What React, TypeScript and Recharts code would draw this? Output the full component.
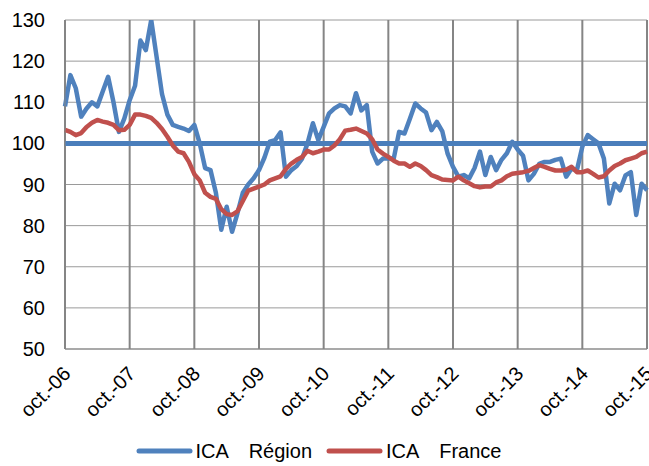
import React from 'react';
import { LineChart, Line, XAxis, YAxis, CartesianGrid, ReferenceLine, Legend } from 'recharts';

const tickLabels = ['oct.-06', 'oct.-07', 'oct.-08', 'oct.-09', 'oct.-10', 'oct.-11', 'oct.-12', 'oct.-13', 'oct.-14', 'oct.-15'];

const region = [
  109, 116.6, 113.4, 106.5, 108.5, 110, 109, 112.6, 116.2, 110, 102.8, 106,
  110.5, 114, 125, 122.7, 130, 121, 112, 107, 104.5, 104, 103.6, 103,
  104.5, 100, 94, 93.5, 88, 79, 84.6, 78.5, 83, 88, 90, 91.5,
  93.5, 96.5, 100.4, 100.8, 102.7, 91.9, 93.5, 94.5, 96.3, 100, 104.9, 100.8,
  104, 107.3, 108.5, 109.3, 109, 107.3, 112.2, 108, 109.3, 98, 95.1, 96.3,
  96.3, 96.3, 102.8, 102.4, 106, 109.7, 108.5, 107.5, 103.2, 105.2, 103, 97.5,
  94.3, 91.9, 92.3, 91.5, 94, 98, 92.3, 96.7, 93.5, 96, 97.6, 100.4,
  98.5, 97, 91, 92.6, 95, 95.5, 95.5, 96, 96.3, 91.9, 93.9, 93.5,
  99.2, 102, 101, 100, 96.3, 85.4, 90.2, 88.6, 92.2, 93, 82.6, 90.2,
  88.6,
];

const france = [
  103.3, 102.8, 102, 102.5, 104, 105, 105.7, 105.3, 105, 104.5, 103.2, 103.3,
  104.5, 107, 107, 106.7, 106.2, 105, 103.5, 101.6, 99.5, 98, 97.6, 95.5,
  92.5, 91, 88, 87, 86.5, 84, 82.8, 82.6, 83.5, 86, 88.5, 89,
  89.5, 90, 91, 91.5, 92, 93.8, 95.1, 96, 96.7, 98.2, 97.6, 98,
  98.5, 98.5, 99.5, 101, 103.1, 103.3, 103.6, 103, 102.4, 101, 98.5, 97.5,
  96.7, 95.8, 95.1, 95.1, 94.3, 95.1, 94.5, 93.5, 92.3, 91.8, 91.2, 91.1,
  91, 91.9, 91, 90.3, 89.6, 89.3, 89.5, 89.5, 90.5, 91, 92, 92.6,
  92.8, 93, 93.3, 94, 94.7, 94.3, 93.8, 93.4, 93.4, 93.6, 94.3, 93,
  93, 93.4, 92.6, 91.7, 92, 93.4, 94.5, 95.1, 95.9, 96.3, 96.7, 97.6,
  98,
];

const yTicks = [50, 60, 70, 80, 90, 100, 110, 120, 130];
const baseLevel = 100;
const seriesOrder = ['region', 'france'];
const seriesNames: Record<string, string> = { region: 'ICA   Région', france: 'ICA   France' };

const data = region.map((v, i) => ({ m: i, region: v, france: france[i] }));
const xTicks = tickLabels.map((_, k) => k * 12);

const BLUE = '#4F81BD';
const RED = '#C0504D';
const FONT = '"Liberation Sans", Arial, sans-serif';

const XTick = (props: any) => {
  const { x, y, payload } = props;
  const label = tickLabels[Math.round(payload.value / 12)] ?? '';
  return (
    <g transform={`translate(${x + 2},${y + 13})`}>
      <text
        x={0}
        y={0}
        textAnchor="end"
        transform="rotate(-45)"
        fontSize={20}
        fontFamily={FONT}
        fill="#000"
        dy="0.35em"
      >
        {label}
      </text>
    </g>
  );
};

const LegendContent = (props: any) => {
  const payload = [...(props.payload || [])].sort(
    (a: any, b: any) => seriesOrder.indexOf(a.dataKey) - seriesOrder.indexOf(b.dataKey)
  );
  return (
    <div
      style={{
        height: 30,
        display: 'flex',
        alignItems: 'center',
        justifyContent: 'center',
        fontFamily: FONT,
        fontSize: 20,
        color: '#000',
        paddingRight: 10,
      }}
    >
      {payload.map((p: any, idx: number) => (
        <div key={idx} style={{ display: 'flex', alignItems: 'center', marginLeft: idx === 0 ? 0 : 14 }}>
          <svg width={57} height={10} style={{ display: 'block' }}>
            <line x1={3} y1={5} x2={54} y2={5} stroke={p.color} strokeWidth={5} strokeLinecap="round" />
          </svg>
          <span style={{ whiteSpace: 'pre', marginLeft: 3, wordSpacing: 1.4, lineHeight: '20px' }}>{p.value}</span>
        </div>
      ))}
    </div>
  );
};

export default function App() {
  return (
    <div style={{ position: 'absolute', left: 0, top: 0, width: 649, height: 466, background: '#fff' }}>
      <LineChart width={649} height={466} data={data} margin={{ top: 20, right: 2, left: 0, bottom: 0 }}>
        <CartesianGrid vertical={false} stroke="#9a9a9a" strokeWidth={1} />
        <CartesianGrid horizontal={false} stroke="#858585" strokeWidth={2} />
        <XAxis
          dataKey="m"
          type="number"
          domain={[0, 108]}
          ticks={xTicks}
          interval={0}
          tick={<XTick />}
          tickLine={false}
          axisLine={{ stroke: '#858585', strokeWidth: 1 }}
          height={87}
          tickSize={6}
          tickMargin={2}
        />
        <YAxis
          domain={[50, 130]}
          ticks={yTicks}
          interval={0}
          width={65}
          tickLine={false}
          axisLine={{ stroke: '#858585', strokeWidth: 1 }}
          tick={{ fontSize: 20, fontFamily: FONT, fill: '#000' }}
          tickSize={6}
          tickMargin={14}
          allowDataOverflow
        />
        <ReferenceLine y={baseLevel} stroke="#4A7EBB" strokeWidth={5} />
        <Line
          type="linear"
          dataKey="region"
          name={seriesNames.region}
          stroke={BLUE}
          strokeWidth={4.5}
          dot={false}
          strokeLinejoin="round"
          isAnimationActive={false}
        />
        <Line
          type="linear"
          dataKey="france"
          name={seriesNames.france}
          stroke={RED}
          strokeWidth={4.5}
          dot={false}
          strokeLinejoin="round"
          isAnimationActive={false}
        />
        <Legend verticalAlign="bottom" align="center" content={<LegendContent />} />
      </LineChart>
    </div>
  );
}
